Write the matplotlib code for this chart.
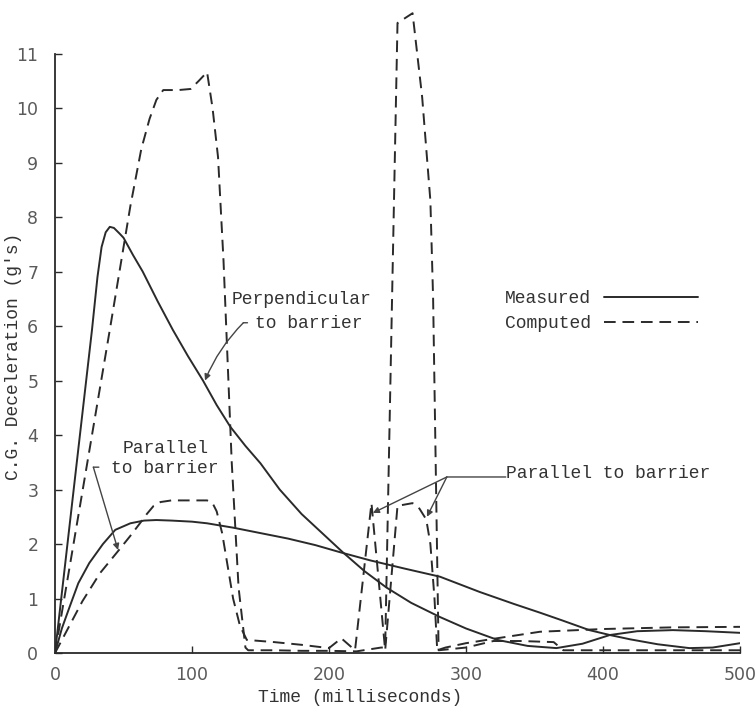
import matplotlib
matplotlib.use("Agg")
import matplotlib.pyplot as plt
from matplotlib.lines import Line2D

# ---------------- data ----------------
perp_meas_t = [0, 15, 27, 31, 34, 37, 40, 43, 47, 50, 57, 64, 75, 86, 97, 108, 118, 128,
               139, 150, 164, 180, 195, 210, 226, 242, 260, 281, 300, 323, 345, 366,
               385, 405, 425, 451, 475, 500]
perp_meas_g = [0, 3.3, 5.93, 6.9, 7.45, 7.72, 7.82, 7.8, 7.7, 7.62, 7.3, 7.0, 6.45, 5.93,
               5.45, 5.0, 4.55, 4.15, 3.8, 3.48, 3.0, 2.55, 2.2, 1.85, 1.5, 1.2, 0.92,
               0.66, 0.45, 0.24, 0.13, 0.09, 0.17, 0.33, 0.4, 0.42, 0.4, 0.37]

par_meas_t = [0, 5, 10, 17, 25, 35, 44, 55, 65, 74, 85, 100, 111, 130, 150, 170, 190,
              208, 230, 255, 281, 310, 335, 354, 370, 390, 405, 420, 440, 463, 480, 500]
par_meas_g = [0, 0.45, 0.8, 1.28, 1.65, 2.0, 2.26, 2.38, 2.43, 2.44, 2.43, 2.41, 2.38,
              2.3, 2.2, 2.1, 1.98, 1.85, 1.7, 1.55, 1.4, 1.12, 0.9, 0.74, 0.6, 0.42,
              0.33, 0.25, 0.16, 0.09, 0.1, 0.18]

perp_comp_t = [0, 20, 40, 55, 63, 69, 74, 79, 90, 99, 105, 111, 115, 119, 123, 129, 134,
               139, 141, 160, 180, 200, 220, 238, 241, 250, 261, 268, 274, 276, 280, 300,
               320, 340, 364, 371, 400, 450, 500]
perp_comp_g = [0, 2.96, 5.93, 8.2, 9.25, 9.8, 10.15, 10.33, 10.33, 10.35, 10.5, 10.66,
               10.0, 9.1, 7.2, 3.5, 1.2, 0.1, 0.05, 0.05, 0.04, 0.04, 0.03, 0.1, 0.1,
               11.56, 11.74, 10.2, 8.3, 6.5, 0.05, 0.1, 0.22, 0.22, 0.2, 0.05, 0.05, 0.05, 0.05]

par_comp_t = [0, 20, 33, 47, 55, 62, 67, 72, 77, 85, 100, 111, 115, 118, 122, 126, 130,
              135, 140, 160, 180, 200, 209, 219, 231, 241, 250, 261, 266, 271, 274, 277,
              279, 285, 300, 320, 354, 400, 450, 500]
par_comp_g = [0, 0.95, 1.47, 1.9, 2.15, 2.38, 2.55, 2.7, 2.77, 2.8, 2.8, 2.8, 2.75, 2.6,
              2.2, 1.6, 1.0, 0.5, 0.24, 0.2, 0.15, 0.09, 0.27, 0.05, 2.75, 0.05, 2.7,
              2.75, 2.65, 2.45, 2.0, 1.0, 0.05, 0.1, 0.18, 0.26, 0.39, 0.44, 0.47, 0.48]

x_ticks = [0, 100, 200, 300, 400, 500]
y_ticks = list(range(0, 12))

# ---------------- figure ----------------
W, H = 756, 713
fig = plt.figure(figsize=(W / 100, H / 100), dpi=100)
ax = fig.add_axes([55 / W, 1 - 653 / H, 685 / W, (653 - 4.5) / H])

ink = "#2a2a2a"
mono = "Liberation Mono"
solid_kw = dict(color=ink, lw=1.4, solid_capstyle="round")
dash_kw = dict(color=ink, lw=1.4, linestyle=(0, (6, 3.5)))

ax.plot(perp_meas_t, perp_meas_g, **solid_kw)
ax.plot(par_meas_t, par_meas_g, **solid_kw)
ax.plot(perp_comp_t, perp_comp_g, **dash_kw)
ax.plot(par_comp_t, par_comp_g, **dash_kw)

ax.set_xlim(0, 500)
ax.set_ylim(0, 11.9)
ax.set_xticks(x_ticks)
ax.set_yticks(y_ticks)
for s in ("top", "right"):
    ax.spines[s].set_visible(False)
ax.spines["left"].set_bounds(0, 11)
for s in ("left", "bottom"):
    ax.spines[s].set_color(ink)
    ax.spines[s].set_linewidth(1.3)
ax.tick_params(direction="in", length=5, width=1.0, color=ink,
               labelsize=12.5, labelcolor="#5a5a5a")
ax.tick_params(axis="y", pad=12)
ax.tick_params(axis="x", pad=9)
for lab in ax.get_xticklabels() + ax.get_yticklabels():
    lab.set_family("DejaVu Sans")
ax.patch.set_alpha(0)

# axis titles
fig.text(360 / W, 1 - 697 / H, "Time (milliseconds)", family=mono, fontsize=13,
         color="#333333", ha="center", va="center")
fig.text(14 / W, 1 - 356 / H, "C.G. Deceleration (g's)", family=mono, fontsize=13,
         color="#333333", ha="center", va="center", rotation=90)

# legend
handles = [Line2D([], [], **solid_kw), Line2D([], [], **dash_kw)]
leg = ax.legend(handles, ["Measured", "Computed"], loc="upper left",
                bbox_to_anchor=((505 - 55) / 685, (653 - 290) / 648.5),
                frameon=False, markerfirst=False, borderpad=0, borderaxespad=0,
                handlelength=5.2, handletextpad=0.72, labelspacing=0.47,
                prop=dict(family=mono, size=13))
for t in leg.get_texts():
    t.set_color("#333333")

# annotations
tkw = dict(family=mono, fontsize=13, color="#333333")
arr = dict(arrowstyle="-|>", color="#444444", lw=1.0, mutation_scale=9,
           shrinkA=0, shrinkB=0)
line = dict(arrowstyle="-", color="#444444", lw=1.0, shrinkA=0, shrinkB=0)

ax.text(129, 6.48, "Perpendicular", va="center", ha="left", **tkw)
ax.text(146, 6.04, "to barrier", va="center", ha="left", **tkw)
ax.annotate("", xy=(137.5, 6.06), xytext=(140.5, 6.06), arrowprops=line)
ax.annotate("", xy=(109.5, 5.0), xytext=(137.5, 6.06),
            arrowprops=dict(arr, connectionstyle="arc3,rad=0.1"))

ax.text(49, 3.75, "Parallel", va="center", ha="left", **tkw)
ax.text(41, 3.38, "to barrier", va="center", ha="left", **tkw)
ax.annotate("", xy=(28, 3.41), xytext=(32, 3.41), arrowprops=line)
ax.annotate("", xy=(46, 1.89), xytext=(28, 3.41), arrowprops=arr)

ax.text(329, 3.3, "Parallel to barrier", va="center", ha="left", **tkw)
ax.annotate("", xy=(286, 3.23), xytext=(329, 3.23), arrowprops=line)
ax.annotate("", xy=(232, 2.57), xytext=(286, 3.23), arrowprops=arr)
ax.annotate("", xy=(271.5, 2.5), xytext=(286, 3.23), arrowprops=arr)

fig.savefig("out.png", dpi=100, facecolor="white")
